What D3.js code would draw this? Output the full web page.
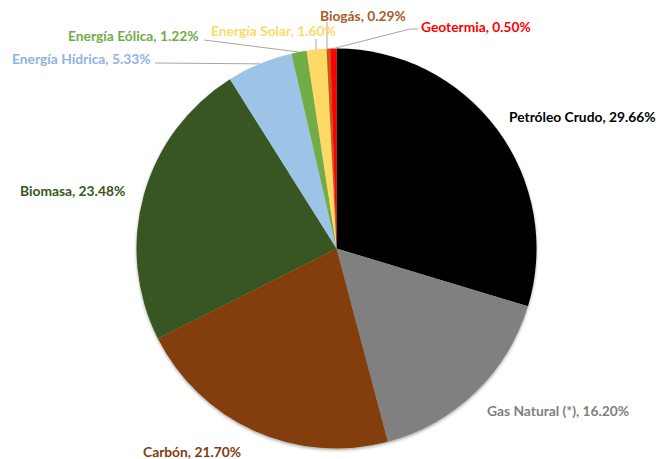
<!DOCTYPE html>
<html>
<head>
<meta charset="utf-8">
<script src="https://cdn.jsdelivr.net/npm/d3@7"></script>
<style>
  html, body { margin: 0; padding: 0; background: #fff; }
  svg { display: block; }
  text { font-family: Lato, "Open Sans", sans-serif; font-weight: 700; font-size: 13.8px; }
</style>
</head>
<body>
<svg id="chart" width="662" height="459"></svg>
<script>
// Energy sources and their share of the total supply (%)
const categories = ["Petróleo Crudo", "Gas Natural (*)", "Carbón", "Biomasa", "Energía Hídrica",
                    "Energía Eólica", "Energía Solar", "Biogás", "Geotermia"];
const shares = [29.66, 16.20, 21.70, 23.48, 5.33, 1.22, 1.60, 0.29, 0.50];
const valueLabels = ["29.66%", "16.20%", "21.70%", "23.48%", "5.33%", "1.22%", "1.60%", "0.29%", "0.50%"];

// Styling per slice
const sliceColors = ["#000000", "#808080", "#843C0C", "#375623", "#9DC3E6", "#70AD47", "#FFD966", "#C55A11", "#FF0000"];
const textColors  = ["#000000", "#7F7F7F", "#843C0C", "#375623", "#8FB4E3", "#70AD47", "#FFD966", "#A85B28", "#FF0000"];

// Label placement: left x, middle y, and where each leader line starts
const labelLayout = [
  { x: 509, y: 116, leader: false },
  { x: 487, y: 410, leader: false },
  { x: 143, y: 451, leader: false },
  { x: 20,  y: 190, leader: false },
  { x: 12,  y: 58,  leader: true, from: [155, 63] },
  { x: 68,  y: 35,  leader: true, from: [204, 40] },
  { x: 211, y: 30,  leader: true, from: [316, 39], vertical: true },
  { x: 320, y: 15,  leader: true, from: [327, 22], vertical: true },
  { x: 421, y: 26,  leader: true, from: [418, 29], bend: [410, 29] }
];

const cx = 336.5, cy = 248.5, radius = 200;
const svg = d3.select("#chart");

const defs = svg.append("defs");
const shadow = defs.append("filter").attr("id", "pieShadow")
  .attr("x", "-10%").attr("y", "-10%").attr("width", "120%").attr("height", "120%");
shadow.append("feDropShadow").attr("dx", 0).attr("dy", 1.5)
  .attr("stdDeviation", 1.6).attr("flood-color", "#000").attr("flood-opacity", 0.35);

const data = categories.map((c, i) => ({ name: c, value: shares[i], i }));

const pie = d3.pie().value(d => d.value).sort(null);
const arcs = pie(data);
const arc = d3.arc().innerRadius(0).outerRadius(radius);

const g = svg.append("g").attr("transform", `translate(${cx},${cy})`);
g.append("g").attr("filter", "url(#pieShadow)")
  .selectAll("path")
  .data(arcs)
  .enter().append("path")
  .attr("d", arc)
  .attr("fill", d => sliceColors[d.data.i]);

// Leader lines to the slice edge at the mid-angle
const edge = d => {
  const a = (d.startAngle + d.endAngle) / 2;
  return [cx + radius * Math.sin(a), cy - radius * Math.cos(a)];
};

svg.append("g").selectAll("polyline")
  .data(arcs.filter(d => labelLayout[d.data.i].leader))
  .enter().append("polyline")
  .attr("fill", "none")
  .attr("stroke", "#A6A6A6")
  .attr("stroke-width", 1)
  .attr("points", d => {
    const L = labelLayout[d.data.i];
    const e = edge(d);
    const pts = [L.from];
    if (L.bend) pts.push(L.bend);
    if (L.vertical) pts.push([L.from[0], e[1]]);
    else pts.push(e);
    return pts.map(p => p.join(",")).join(" ");
  });

svg.append("g").selectAll("text")
  .data(data)
  .enter().append("text")
  .attr("x", d => labelLayout[d.i].x)
  .attr("y", d => labelLayout[d.i].y)
  .attr("dominant-baseline", "central")
  .attr("fill", d => textColors[d.i])
  .text(d => `${d.name}, ${valueLabels[d.i]}`);
</script>
</body>
</html>
